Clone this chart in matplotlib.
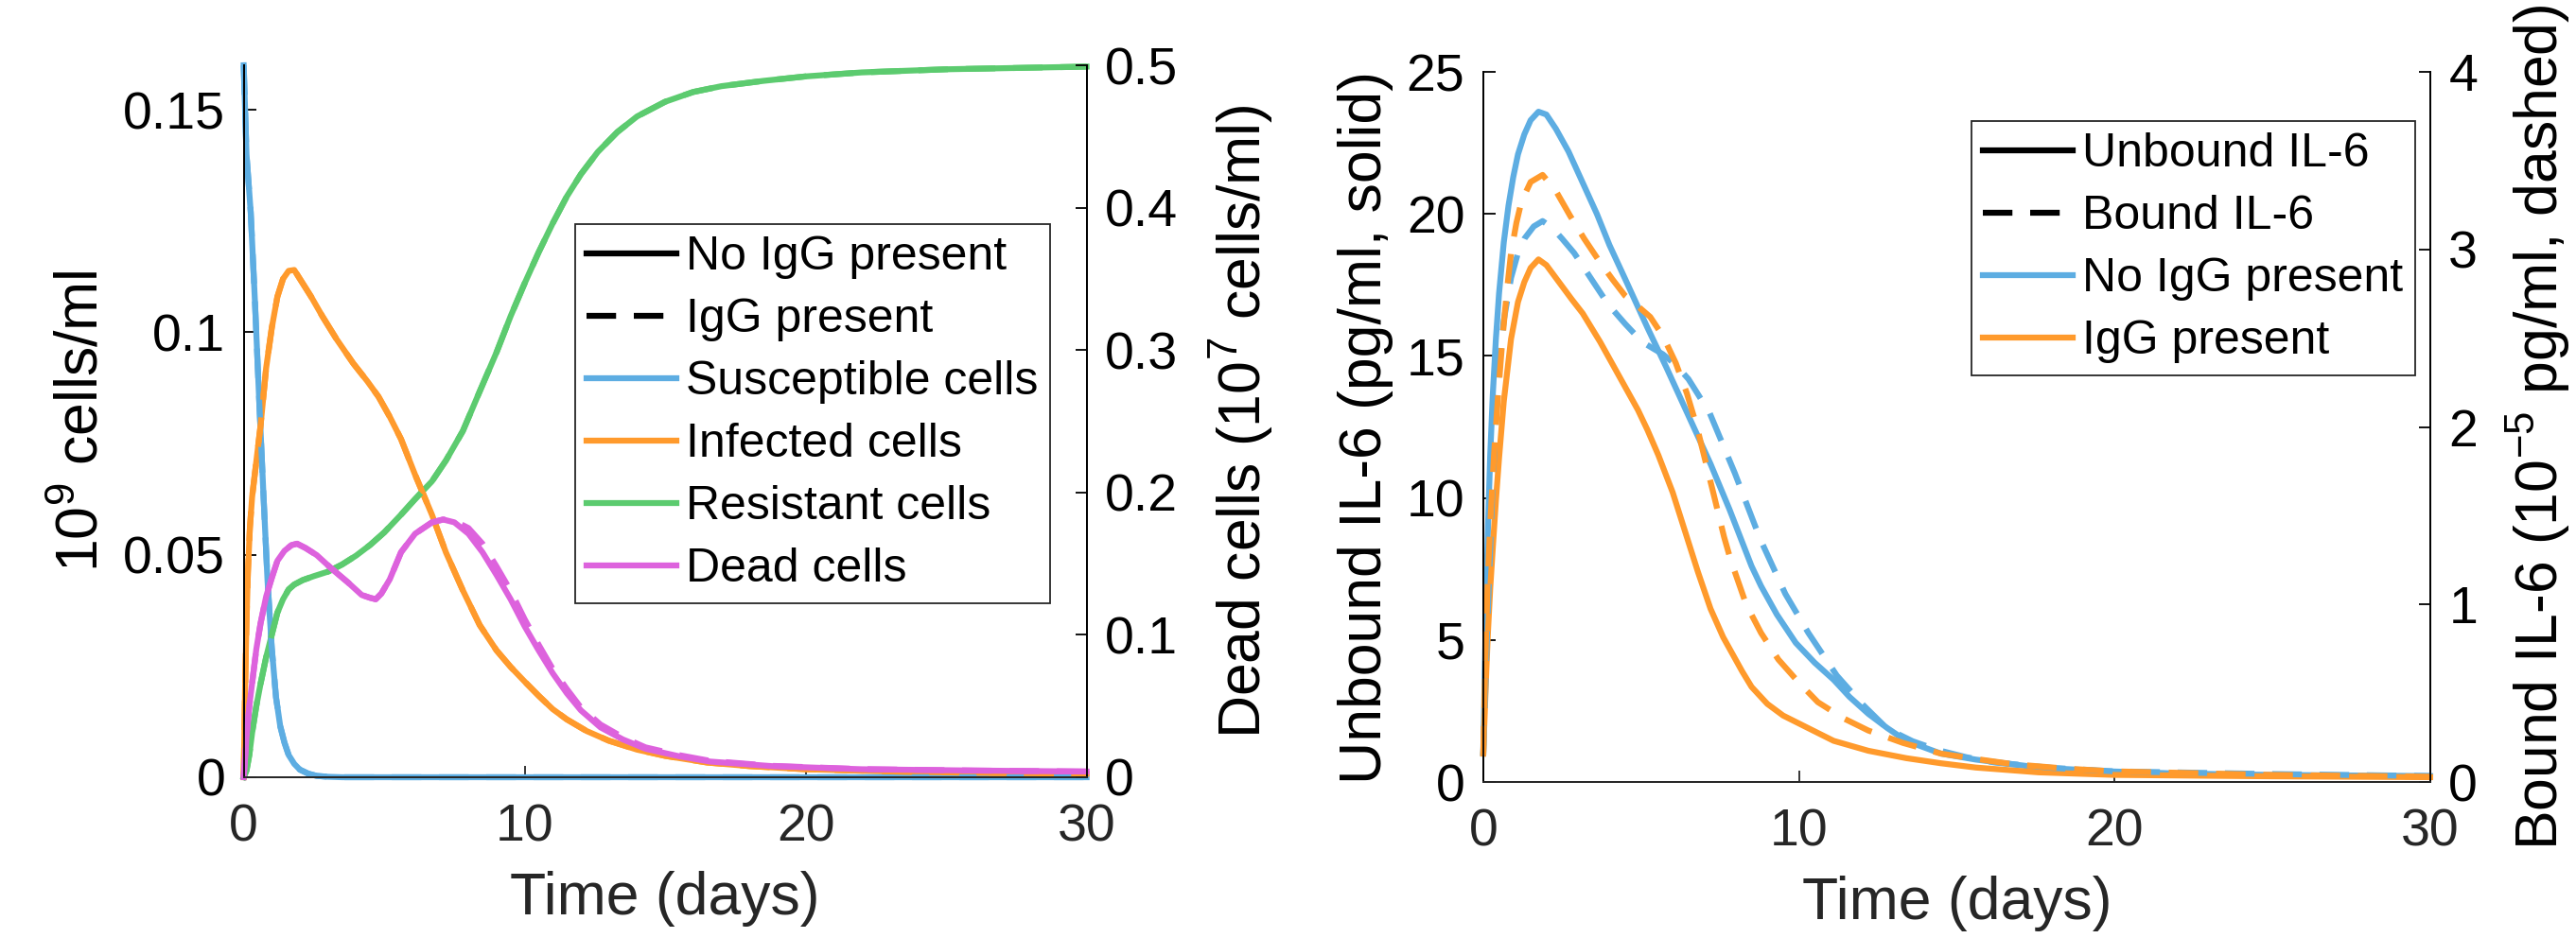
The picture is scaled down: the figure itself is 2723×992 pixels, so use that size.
import matplotlib
matplotlib.use("Agg")
import matplotlib.pyplot as plt
from matplotlib.lines import Line2D

plt.rcParams['font.family'] = ['Liberation Sans', 'DejaVu Sans']
plt.rcParams['mathtext.default'] = 'regular'

# ---- left panel: cell populations ----
t_sus = [0, 0.1, 0.25, 0.4, 0.55, 0.7, 0.85, 1.0, 1.15, 1.3, 1.45, 1.6, 1.8, 2.0,
         2.3, 2.6, 3.0, 3.5, 5, 30]
susceptible = [0.16, 0.140, 0.127, 0.107, 0.085, 0.064, 0.044, 0.029, 0.018, 0.0115,
               0.0078, 0.005, 0.003, 0.0017, 0.0008, 0.0003, 0.0001, 0, 0, 0]

t_inf = [0, 0.05, 0.1, 0.15, 0.22, 0.3, 0.45, 0.6, 0.8, 1.0, 1.2, 1.4, 1.6, 1.8, 2.0,
         2.4, 2.8, 3.3, 3.9, 4.4, 4.8, 5.2, 5.6, 6.1, 6.7, 7.2, 7.8, 8.4, 9.0, 9.5,
         10.0, 10.5, 11.0, 11.5, 12.2, 13.0, 14.0, 15.0, 16.5, 18, 20, 23, 26, 30]
infected = [0, 0.02, 0.035, 0.046, 0.056, 0.063, 0.071, 0.079, 0.092, 0.101, 0.108,
            0.112, 0.1138, 0.1140, 0.112, 0.108, 0.1036, 0.0985, 0.093, 0.089, 0.0855,
            0.081, 0.076, 0.068, 0.059, 0.0505, 0.042, 0.0342, 0.0285, 0.0248, 0.0215,
            0.0183, 0.0153, 0.0130, 0.0104, 0.0082, 0.0062, 0.0048, 0.0033, 0.0025,
            0.0018, 0.0013, 0.001, 0.0008]

t_res = [0, 0.1, 0.2, 0.3, 0.45, 0.6, 0.8, 1.0, 1.2, 1.4, 1.6, 1.8, 2.1, 2.5, 3.0,
         3.5, 4.0, 4.5, 5.0, 5.6, 6.1, 6.7, 7.2, 7.8, 8.4, 9.0, 9.5, 10.0, 10.5, 11.0,
         11.5, 12.0, 12.6, 13.3, 14.0, 15.0, 16.0, 17.0, 18.5, 20, 22, 25, 30]
resistant = [0, 0.0015, 0.005, 0.010, 0.016, 0.021, 0.027, 0.032, 0.037, 0.040,
             0.0422, 0.0433, 0.0443, 0.0452, 0.0462, 0.0478, 0.0498, 0.0522, 0.0550,
             0.059, 0.0625, 0.0665, 0.0712, 0.0778, 0.0867, 0.0955, 0.1036, 0.111,
             0.118, 0.1245, 0.1305, 0.1355, 0.1405, 0.145, 0.1485, 0.1518, 0.1540,
             0.1553, 0.1565, 0.1575, 0.1584, 0.1591, 0.1597]

# dead cells, right axis (10^7 cells/ml)
t_dead = [0, 0.1, 0.2, 0.3, 0.45, 0.6, 0.8, 1.0, 1.2, 1.45, 1.7, 1.9, 2.2, 2.6, 3.1,
          3.7, 4.2, 4.5, 4.7, 4.9, 5.2, 5.6, 6.1, 6.7, 7.1, 7.5, 8.0, 8.5, 9.0, 9.5,
          10.0, 10.5, 11.0, 11.5, 12.0, 12.7, 13.5, 14.3, 15.5, 16.6, 18.8, 22, 26, 30]
dead = [0, 0.028, 0.05, 0.066, 0.09, 0.108, 0.127, 0.140, 0.152, 0.159, 0.163, 0.164,
        0.161, 0.156, 0.147, 0.137, 0.128, 0.126, 0.125, 0.129, 0.139, 0.158, 0.171,
        0.179, 0.181, 0.179, 0.171, 0.158, 0.142, 0.125, 0.106, 0.089, 0.073, 0.059,
        0.047, 0.035, 0.0265, 0.020, 0.0147, 0.011, 0.0078, 0.0056, 0.0047, 0.004]

# IgG present (dashed): S, I, R lie on top of the no-IgG curves
susceptible_igg = list(susceptible)
infected_igg = list(infected)
resistant_igg = list(resistant)
dead_igg = [0, 0.028, 0.05, 0.066, 0.09, 0.108, 0.127, 0.140, 0.152, 0.159, 0.163,
            0.164, 0.161, 0.156, 0.147, 0.137, 0.128, 0.126, 0.125, 0.129, 0.139,
            0.158, 0.171, 0.179, 0.181, 0.180, 0.175, 0.164, 0.148, 0.131, 0.111,
            0.093, 0.076, 0.062, 0.049, 0.037, 0.028, 0.021, 0.0155, 0.0115, 0.008,
            0.0057, 0.0047, 0.004]

# ---- right panel: IL-6 ----
t_unb_no = [0, 0.05, 0.1, 0.15, 0.22, 0.3, 0.4, 0.5, 0.65, 0.8, 0.95, 1.1, 1.3, 1.5,
            1.75, 2.0, 2.3, 2.7, 3.15, 3.6, 4.0, 4.5, 5.2, 5.8, 6.5, 7.2, 7.8, 8.5,
            8.8, 9.3, 9.9, 10.5, 11.1, 11.6, 12.2, 12.8, 13.4, 14.5, 15.6, 17.6, 19.7,
            22, 25, 30]
unbound_no = [1.0, 4.0, 6.8, 9.0, 11.5, 13.6, 15.6, 17.2, 19.0, 20.3, 21.3, 22.1,
              22.8, 23.3, 23.6, 23.5, 23.0, 22.2, 21.1, 20.0, 18.9, 17.7, 16.0, 14.6,
              12.9, 11.2, 9.6, 7.6, 6.9, 5.9, 4.9, 4.2, 3.6, 3.0, 2.4, 1.9, 1.45, 1.0,
              0.79, 0.51, 0.38, 0.3, 0.25, 0.21]
t_unb_igg = [0, 0.05, 0.1, 0.15, 0.22, 0.3, 0.4, 0.5, 0.65, 0.88, 1.1, 1.3, 1.5, 1.75,
             2.0, 2.4, 2.8, 3.15, 3.7, 4.2, 4.6, 4.9, 5.2, 5.55, 6.0, 6.4, 6.8, 7.2,
             7.6, 7.9, 8.2, 8.5, 9.0, 9.5, 10.2, 11.1, 12.2, 13.4, 14.5, 15.6, 17.6,
             20, 25, 30]
unbound_igg = [1.0, 2.5, 4.0, 5.3, 6.8, 8.2, 9.9, 11.4, 13.4, 15.6, 16.9, 17.6, 18.1,
               18.4, 18.2, 17.6, 17.0, 16.5, 15.5, 14.5, 13.7, 13.1, 12.4, 11.5, 10.2,
               8.8, 7.4, 6.1, 5.1, 4.5, 3.9, 3.35, 2.75, 2.34, 1.95, 1.45, 1.1, 0.84,
               0.66, 0.51, 0.34, 0.25, 0.2, 0.17]
t_bnd_no = [0, 0.07, 0.13, 0.2, 0.28, 0.38, 0.48, 0.65, 0.88, 1.1, 1.3, 1.6, 1.88, 2.2,
            2.5, 2.88, 3.4, 3.96, 4.5, 5.03, 5.4, 5.69, 6.1, 6.5, 7.17, 7.97, 8.77,
            9.57, 10.3, 11.2, 12.0, 12.8, 13.6, 14.4, 15.3, 16.2, 18, 20, 25, 30]
bound_no = [0.15, 0.55, 0.89, 1.22, 1.6, 1.98, 2.31, 2.6, 2.84, 2.98, 3.06, 3.13, 3.16,
            3.12, 3.06, 2.98, 2.84, 2.69, 2.58, 2.48, 2.44, 2.41, 2.35, 2.27, 2.08,
            1.74, 1.37, 1.06, 0.84, 0.6, 0.44, 0.30, 0.23, 0.18, 0.14, 0.11, 0.08,
            0.06, 0.045, 0.034]
t_bnd_igg = [0, 0.07, 0.14, 0.22, 0.34, 0.47, 0.61, 0.75, 0.88, 1.05, 1.21, 1.5, 1.88,
             2.3, 2.75, 3.2, 3.69, 4.1, 4.49, 4.9, 5.29, 5.7, 6.1, 6.45, 6.77, 7.3,
             7.63, 7.84, 8.33, 8.8, 9.35, 10.0, 10.6, 11.4, 12.2, 13.3, 14.5, 15.6,
             16.8, 18.5, 20, 25, 30]
bound_igg = [0.15, 0.7, 1.13, 1.45, 1.84, 2.18, 2.50, 2.77, 2.98, 3.15, 3.27, 3.38,
             3.42, 3.33, 3.19, 3.06, 2.93, 2.83, 2.74, 2.68, 2.62, 2.51, 2.36, 2.19,
             2.0, 1.62, 1.38, 1.25, 1.0, 0.84, 0.69, 0.56, 0.45, 0.36, 0.29, 0.22,
             0.16, 0.13, 0.10, 0.075, 0.06, 0.04, 0.03]

BLUE = '#5DADE2'
ORANGE = '#FF9A2C'
GREEN = '#5CCB6F'
MAGENTA = '#DD62DD'
LW = 4.5
DASH = (0, (5, 3))
TICK_FS = 40
LABEL_FS = 45
LEG_FS = 36
AX_COLOR = '#262626'


def style_axes(ax, twin):
    ax.set_xlim(0, 30)
    ax.set_xticks([0, 10, 20, 30])
    ax.tick_params(axis='both', direction='in', length=9, width=1.3,
                   labelsize=TICK_FS, pad=14)
    ax.tick_params(axis='x', pad=20, colors=AX_COLOR)
    twin.tick_params(axis='y', direction='in', length=9, width=1.3,
                     labelsize=TICK_FS, pad=14)
    for a in (ax, twin):
        a.spines['top'].set_visible(False)
        a.spines['bottom'].set_color(AX_COLOR)
        for s in ('left', 'right', 'bottom'):
            a.spines[s].set_linewidth(1.3)
    ax.set_xlabel('Time (days)', fontsize=LABEL_FS, color=AX_COLOR, labelpad=14)


def make_legend(ax, handles, labels, anchor):
    leg = ax.legend(handles, labels, loc='upper right', bbox_to_anchor=anchor,
                    fontsize=LEG_FS, frameon=True, fancybox=False, framealpha=1,
                    edgecolor='#262626', handlelength=1.9, handletextpad=0.2,
                    labelspacing=0.4, borderpad=0.25, borderaxespad=0)
    leg.get_frame().set_linewidth(1.3)
    for h in leg.get_lines():
        h.set_linewidth(LW)


fig = plt.figure(figsize=(27.23, 9.92), dpi=100)

# left panel
ax1 = fig.add_axes([0.0946, 0.1714, 0.3272, 0.759])
ax1b = ax1.twinx()
ax1.plot(t_sus, susceptible, color=BLUE, lw=LW, clip_on=False)
ax1.plot(t_inf, infected, color=ORANGE, lw=LW, clip_on=False)
ax1.plot(t_res, resistant, color=GREEN, lw=LW, clip_on=False)
ax1.plot(t_sus, susceptible_igg, color=BLUE, lw=LW, ls=DASH, clip_on=False)
ax1.plot(t_inf, infected_igg, color=ORANGE, lw=LW, ls=DASH, clip_on=False)
ax1.plot(t_res, resistant_igg, color=GREEN, lw=LW, ls=DASH, clip_on=False)
ax1b.plot(t_dead, dead, color=MAGENTA, lw=LW, clip_on=False)
ax1b.plot(t_dead, dead_igg, color=MAGENTA, lw=LW, ls=DASH, clip_on=False)
ax1.set_ylim(0, 0.16)
ax1.set_yticks([0, 0.05, 0.1, 0.15])
ax1.set_yticklabels(['0', '0.05', '0.1', '0.15'])
ax1b.set_ylim(0, 0.5)
ax1b.set_yticks([0, 0.1, 0.2, 0.3, 0.4, 0.5])
ax1b.set_yticklabels(['0', '0.1', '0.2', '0.3', '0.4', '0.5'])
ax1.set_ylabel('10$^9$ cells/ml', fontsize=LABEL_FS, labelpad=10)
ax1b.set_ylabel('Dead cells (10$^7$ cells/ml)', fontsize=LABEL_FS, labelpad=22)
style_axes(ax1, ax1b)

handles1 = [Line2D([], [], color='black', lw=LW),
            Line2D([], [], color='black', lw=LW, ls=DASH),
            Line2D([], [], color=BLUE, lw=LW),
            Line2D([], [], color=ORANGE, lw=LW),
            Line2D([], [], color=GREEN, lw=LW),
            Line2D([], [], color=MAGENTA, lw=LW)]
labels1 = ['No IgG present', 'IgG present', 'Susceptible cells', 'Infected cells',
           'Resistant cells', 'Dead cells']
make_legend(ax1b, handles1, labels1, (0.957, 0.777))

# right panel
ax2 = fig.add_axes([0.5758, 0.1663, 0.3676, 0.757])
ax2b = ax2.twinx()
ax2.plot(t_unb_no, unbound_no, color=BLUE, lw=LW, clip_on=False)
ax2.plot(t_unb_igg, unbound_igg, color=ORANGE, lw=LW, clip_on=False)
ax2b.plot(t_bnd_no, bound_no, color=BLUE, lw=LW, ls=DASH, clip_on=False)
ax2b.plot(t_bnd_igg, bound_igg, color=ORANGE, lw=LW, ls=DASH, clip_on=False)
ax2.set_ylim(0, 25)
ax2.set_yticks([0, 5, 10, 15, 20, 25])
ax2b.set_ylim(0, 4)
ax2b.set_yticks([0, 1, 2, 3, 4])
ax2.set_ylabel('Unbound IL-6 (pg/ml, solid)', fontsize=LABEL_FS, labelpad=10)
ax2b.set_ylabel('Bound IL-6 (10$^{-5}$ pg/ml, dashed)', fontsize=LABEL_FS, labelpad=20)
style_axes(ax2, ax2b)

handles2 = [Line2D([], [], color='black', lw=LW),
            Line2D([], [], color='black', lw=LW, ls=DASH),
            Line2D([], [], color=BLUE, lw=LW),
            Line2D([], [], color=ORANGE, lw=LW)]
labels2 = ['Unbound IL-6', 'Bound IL-6', 'No IgG present', 'IgG present']
make_legend(ax2b, handles2, labels2, (0.984, 0.931))

fig.savefig('out.png', dpi=100)
